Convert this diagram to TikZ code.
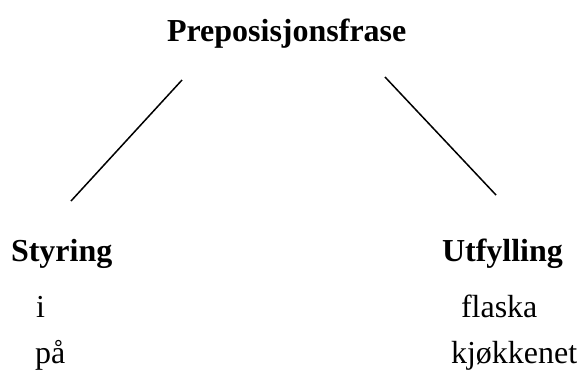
\documentclass[tikz,border=0pt]{standalone}
\usepackage{fontspec}
\setmainfont{Liberation Serif}
\begin{document}
\begin{tikzpicture}[x=1pt,y=-1pt,
  word/.style={anchor=base west,inner sep=0pt,outer sep=0pt,
    font=\fontsize{32}{38}\selectfont},
  head/.style={word,font=\fontsize{32}{38}\selectfont\bfseries},
  branch/.style={line width=1.5pt}]
\useasboundingbox (0,0) rectangle (580,376);
% labels
\node[head] (top) at (167,41) {Preposisjonsfrase};
\node[head] (sty) at (11,261) {Styring};
\node[head] (utf) at (442,261) {Utfylling};
\node[word] (i) at (36,317) {i};
\node[word] (paa) at (35,363) {på};
\node[word] (flaska) at (461,317) {flaska};
\node[word] (kjokken) at (451,363) {kjøkkenet};
% branch end points
\coordinate (lt) at (182,80);
\coordinate (lb) at (71,201);
\coordinate (rt) at (385,77);
\coordinate (rb) at (496,195);
\draw[branch] (lt) -- (lb);
\draw[branch] (rt) -- (rb);
\end{tikzpicture}
\end{document}
